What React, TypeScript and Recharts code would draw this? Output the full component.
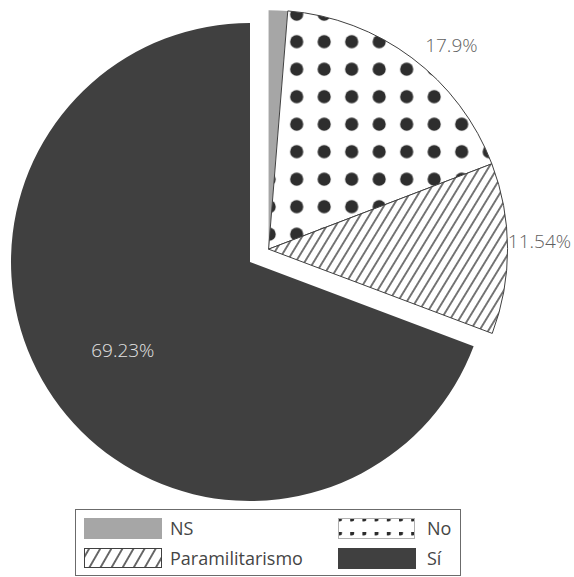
import { PieChart, Pie, Cell, Legend } from "recharts";

// survey shares (%)
const categories = ["NS", "No", "Paramilitarismo", "Sí"];
const shares = [1.28, 17.9, 11.54, 69.23];
// slices pulled out of the pie
const exploded = ["NS", "No", "Paramilitarismo"];

const data = categories.map((name, i) => ({ name, value: shares[i] }));

const FILLS = { NS: "#a6a6a6", No: "url(#dots)", Paramilitarismo: "url(#hatch)", "Sí": "#404040" };
const STROKES = { NS: "none", No: "#404040", Paramilitarismo: "#404040", "Sí": "none" };

const W = 574;
const H = 577;
const CX = 250;
const CY = 262;
const R = 239;
const EXPLODE = 22.6;
const RAD = Math.PI / 180;
const FONT = "'Open Sans', 'Segoe UI', sans-serif";

const total = shares.reduce((a, b) => a + b, 0);
const explodedShare = data.filter((d) => exploded.includes(d.name)).reduce((a, d) => a + d.value, 0);
const midDeg = (explodedShare / total) * 180; // clockwise from 12 o'clock
const EX = CX + EXPLODE * Math.sin(midDeg * RAD);
const EY = CY - EXPLODE * Math.cos(midDeg * RAD);

const angleNudge = { No: -5, Paramilitarismo: 1.5 };
const radiusPad = { No: 35, Paramilitarismo: 32 };

function makeLabel(showExploded: boolean) {
  return (props: any) => {
    const { cx, cy, midAngle, outerRadius, name, value } = props;
    if (exploded.includes(name) !== showExploded) return null;
    if (value < 2) return null;
    const inside = name === "Sí";
    const r = inside ? outerRadius * 0.647 : outerRadius + (radiusPad[name] || 35);
    const a = (midAngle + (angleNudge[name] || 0)) * RAD;
    const x = cx + r * Math.cos(a);
    const y = cy - r * Math.sin(a);
    return (
      <text
        x={x}
        y={y}
        textAnchor="middle"
        dominantBaseline="central"
        fill={inside ? "#e3e3e3" : "#5f5f5f"}
        fontSize={19}
        fontWeight={300}
        fontFamily={FONT}
      >
        {`${value}%`}
      </text>
    );
  };
}

function Swatch({ name }: { name: string }) {
  if (name === "No") {
    return (
      <svg width={77} height={21} style={{ display: "block" }}>
        <defs>
          <pattern id="legDots" patternUnits="userSpaceOnUse" width={12.2} height={14}>
            <circle cx={1.5} cy={1} r={2.5} fill="#2b2b2b" />
          </pattern>
        </defs>
        <rect x={0.5} y={0.5} width={76} height={20} fill="url(#legDots)" stroke="#b0b0b0" />
      </svg>
    );
  }
  if (name === "Paramilitarismo") {
    return (
      <svg width={78} height={20} style={{ display: "block" }}>
        <defs>
          <pattern id="legHatch" patternUnits="userSpaceOnUse" width={9.6} height={10} patternTransform="rotate(30)">
            <line x1={4.8} y1={-2} x2={4.8} y2={12} stroke="#2b2b2b" strokeWidth={1.4} />
          </pattern>
        </defs>
        <rect x={0.5} y={0.5} width={77} height={19} fill="url(#legHatch)" stroke="#404040" />
      </svg>
    );
  }
  return <div style={{ width: 78, height: 21, background: FILLS[name] }} />;
}

const legendSlots = {
  NS: { left: 9, top: 9, text: 95 },
  Paramilitarismo: { left: 9, top: 39, text: 95 },
  No: { left: 263, top: 9, text: 352 },
  "Sí": { left: 263, top: 39, text: 352 },
};

function LegendBox() {
  return (
    <div
      style={{
        position: "relative",
        width: 386,
        height: 67,
        boxSizing: "border-box",
        border: "1px solid #6b6b6b",
        background: "#fff",
        fontFamily: FONT,
        fontSize: 18,
        color: "#454545",
      }}
    >
      {categories.map((name) => {
        const s = legendSlots[name];
        return (
          <div key={name}>
            <div style={{ position: "absolute", left: s.left - 1, top: s.top - 1 }}>
              <Swatch name={name} />
            </div>
            <div
              style={{
                position: "absolute",
                left: s.text - 1,
                top: s.top - 1,
                height: 21,
                lineHeight: "21px",
                whiteSpace: "nowrap",
              }}
            >
              {name}
            </div>
          </div>
        );
      })}
    </div>
  );
}

export default function App() {
  return (
    <div style={{ width: W, height: H, position: "relative", background: "#fff" }}>
      <style>{"body{margin:0}"}</style>
      <PieChart width={W} height={H} margin={{ top: 0, right: 0, bottom: 0, left: 0 }}>
        <defs>
          <pattern id="dots" patternUnits="userSpaceOnUse" x={282.95} y={27.95} width={27.5} height={27.5}>
            <rect width={27.5} height={27.5} fill="#fff" />
            <circle cx={13.75} cy={13.75} r={6.6} fill="#2e2e2e" />
          </pattern>
          <pattern id="hatch" patternUnits="userSpaceOnUse" width={7.7} height={10} patternTransform="rotate(31.4)">
            <rect width={7.7} height={10} fill="#fff" />
            <line x1={3.85} y1={-2} x2={3.85} y2={12} stroke="#2e2e2e" strokeWidth={1.3} />
          </pattern>
        </defs>
        {/* main slice */}
        <Pie
          data={data}
          dataKey="value"
          nameKey="name"
          cx={CX}
          cy={CY}
          outerRadius={R}
          startAngle={90}
          endAngle={-270}
          isAnimationActive={false}
          label={makeLabel(false)}
          labelLine={false}
        >
          {data.map((d) => (
            <Cell key={d.name} fill={exploded.includes(d.name) ? "none" : FILLS[d.name]} stroke="none" />
          ))}
        </Pie>
        {/* exploded slices */}
        <Pie
          data={data}
          dataKey="value"
          nameKey="name"
          cx={EX}
          cy={EY}
          outerRadius={R}
          startAngle={90}
          endAngle={-270}
          isAnimationActive={false}
          label={makeLabel(true)}
          labelLine={false}
        >
          {data.map((d) => (
            <Cell
              key={d.name}
              fill={exploded.includes(d.name) ? FILLS[d.name] : "none"}
              stroke={exploded.includes(d.name) ? STROKES[d.name] : "none"}
              strokeWidth={1}
            />
          ))}
        </Pie>
        <Legend
          content={() => <LegendBox />}
          wrapperStyle={{ left: 75, top: 509, width: 386, height: 67, bottom: "auto", right: "auto" }}
        />
      </PieChart>
    </div>
  );
}
